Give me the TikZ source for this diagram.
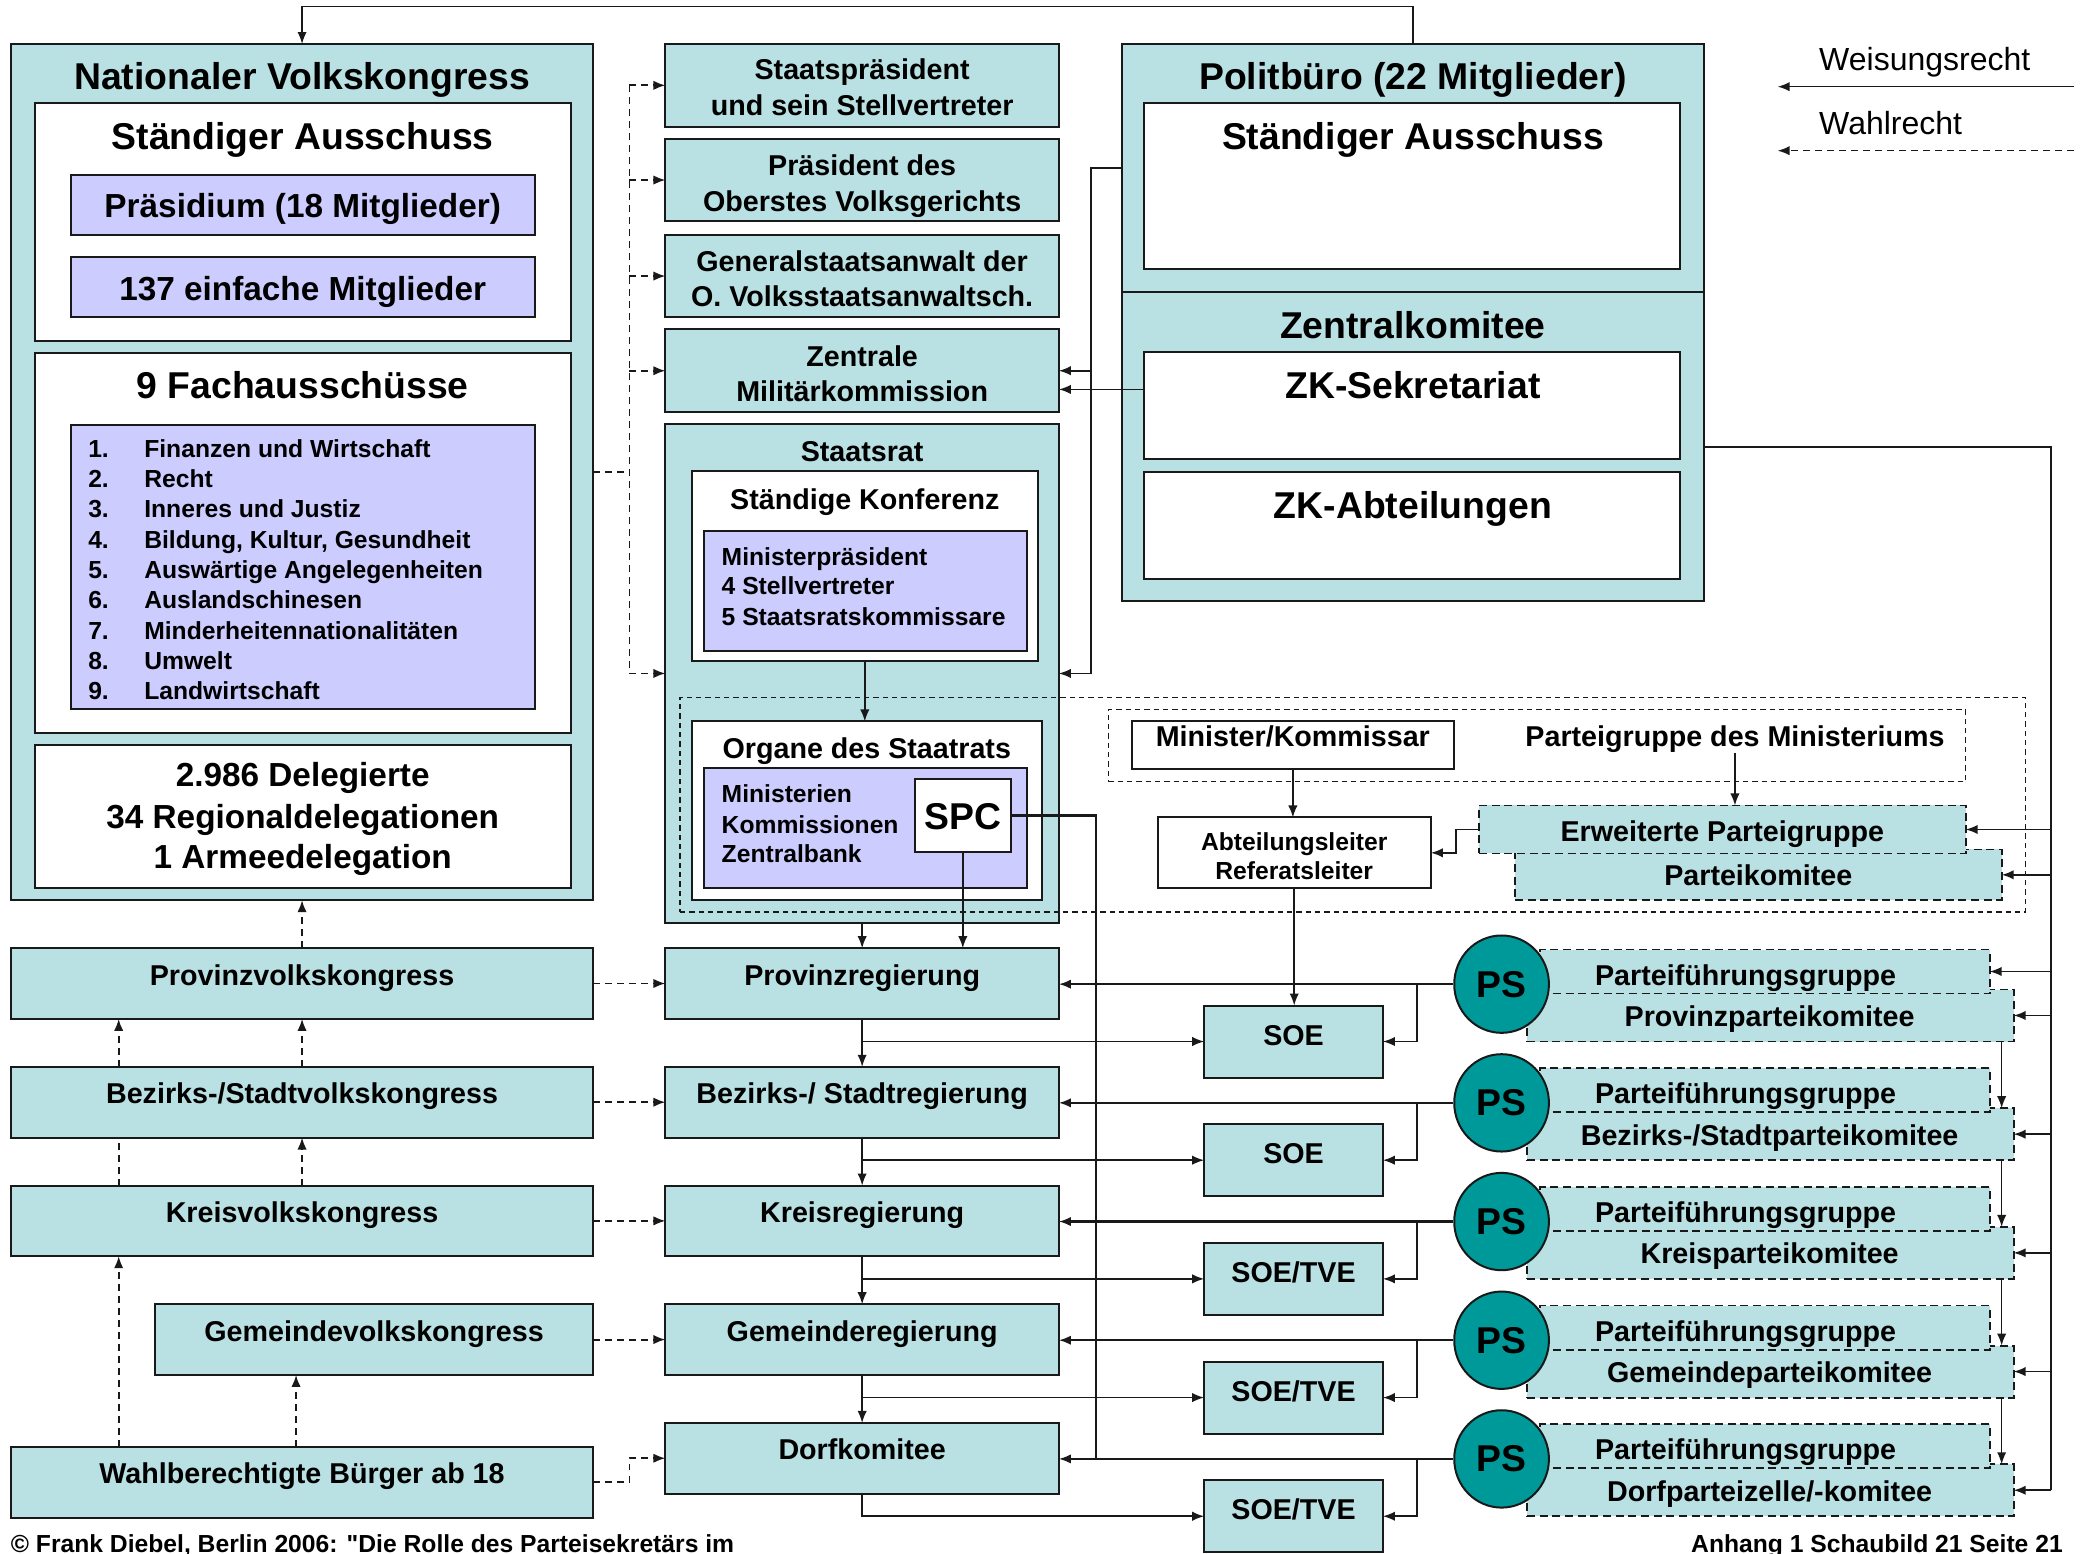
\documentclass[tikz,border=0pt]{standalone}
\usepackage{fontspec}
\setmainfont{Liberation Sans}[Ligatures=TeXOff]
\usetikzlibrary{arrows.meta,calc,shapes.geometric}
\definecolor{cyanbg}{RGB}{185,224,226}
\definecolor{lav}{RGB}{204,204,255}
\definecolor{tealps}{RGB}{0,153,153}
\definecolor{bd}{RGB}{25,25,25}
\newcommand\bx[6]{\node[#1,minimum width={(#4)-(#2)},minimum height={(#5)-(#3)}] (#6) at (#2,#3) {};}
\begin{document}
\begin{tikzpicture}[x=1pt,y=-1pt,
 bxs/.style={inner sep=0pt,outer sep=0pt,anchor=north west,line width=1.5pt,draw=bd},
 cy/.style={bxs,fill=cyanbg},
 wh/.style={bxs,fill=white},
 lv/.style={bxs,fill=lav},
 dcy/.style={bxs,fill=cyanbg,dash pattern=on 6pt off 3.5pt,line width=1.4pt},
 dsh/.style={bxs,dash pattern=on 4pt off 3pt,line width=1pt},
 tA/.style={font=\bfseries\fontsize{28}{32}\selectfont,inner sep=0pt,anchor=base},
 tB/.style={font=\bfseries\fontsize{25}{30}\selectfont,inner sep=0pt,anchor=base},
 tC/.style={font=\bfseries\fontsize{21.5}{26}\selectfont,inner sep=0pt,anchor=base},
 tD/.style={font=\bfseries\fontsize{18.5}{22}\selectfont,inner sep=0pt,anchor=base},
 tL/.style={font=\fontsize{24}{28}\selectfont,inner sep=0pt,anchor=base west},
 ln/.style={line width=1.2pt,draw=bd},
 arr/.style={ln,-{Latex[length=9pt,width=7pt]}},
 dln/.style={ln,line width=1.4pt,dash pattern=on 5pt off 4pt},
 darr/.style={arr,line width=1.4pt,dash pattern=on 5pt off 4pt},
]
\useasboundingbox (0,0) rectangle (1568,1165);

% ---------- Nationaler Volkskongress ----------
\bx{cy}{8}{33}{445}{675}{nvk}
\node[tA] (tnvk) at (226.5,67) {Nationaler Volkskongress};
\bx{wh}{26}{77}{428}{256}{nsa}
\node[tA] (tnsa) at (227,112) {Ständiger Ausschuss};
\bx{lv}{53}{131}{401}{176}{pras}
\node[tB] (tpras) at (227,163) {Präsidium (18 Mitglieder)};
\bx{lv}{53}{193}{401}{238}{e137}
\node[tB] (te137) at (227,225) {137 einfache Mitglieder};
\bx{wh}{26}{265}{428}{550}{nfa}
\node[tA] (tnfa) at (227,299) {9 Fachausschüsse};
\bx{lv}{53}{319}{401}{532}{flist}
\foreach \n/\t [count=\k from 0] in {1/Finanzen und Wirtschaft,2/Recht,3/Inneres und Justiz,4/{Bildung, Kultur, Gesundheit},5/Auswärtige Angelegenheiten,6/Auslandschinesen,7/Minderheitennationalitäten,8/Umwelt,9/Landwirtschaft}{
  \node[tD,anchor=base west] (fn\n) at (66,{342.7+22.75*\k}) {\n.};
  \node[tD,anchor=base west] (ft\n) at (108,{342.7+22.75*\k}) {\t};
}
\bx{wh}{26}{559}{428}{666}{deleg}
\node[tB] (td1) at (227,590) {2.986 Delegierte};
\node[tB] (td2) at (227,621) {34 Regionaldelegationen};
\node[tB] (td3) at (227,651) {1 Armeedelegation};

% ---------- middle column ----------
\bx{cy}{499}{33}{794}{95}{sp}
\node[tC] (tsp1) at (646.5,59.7) {Staatspräsident};
\node[tC] (tsp2) at (646.5,86.7) {und sein Stellvertreter};
\bx{cy}{499}{104}{794}{166}{pd}
\node[tC] (tpd1) at (646.5,131.7) {Präsident des};
\node[tC] (tpd2) at (646.5,158.7) {Oberstes Volksgerichts};
\bx{cy}{499}{176}{794}{238}{gs}
\node[tC] (tgs1) at (646.5,203.7) {Generalstaatsanwalt der};
\node[tC] (tgs2) at (646.5,229.7) {O. Volksstaatsanwaltsch.};
\bx{cy}{499}{247}{794}{309}{zmk}
\node[tC] (tzmk1) at (646.5,274.7) {Zentrale};
\node[tC] (tzmk2) at (646.5,300.7) {Militärkommission};
\bx{cy}{499}{318}{794}{692}{sr}
\node[tC] (tsr) at (646.5,345.7) {Staatsrat};
\bx{wh}{519}{353}{778}{496}{skf}
\node[tC] (tskf) at (648.5,381.7) {Ständige Konferenz};
\bx{lv}{528}{398}{770}{488}{skl}
\node[tD,anchor=base west] (skl1) at (541,423.7) {Ministerpräsident};
\node[tD,anchor=base west] (skl2) at (541,445.7) {4 Stellvertreter};
\node[tD,anchor=base west] (skl3) at (541,468.7) {5 Staatsratskommissare};
\bx{dsh}{510}{523}{1519}{684}{dbig}
\bx{wh}{519}{541}{781}{675}{org}
\node[tC] (torg) at (650,568.7) {Organe des Staatrats};
\bx{lv}{528}{576}{770}{666}{orgl}
\node[tD,anchor=base west] (org1) at (541,601.7) {Ministerien};
\node[tD,anchor=base west] (org2) at (541,624.7) {Kommissionen};
\node[tD,anchor=base west] (org3) at (541,646.7) {Zentralbank};
\bx{wh}{686}{584}{758}{639}{spc}
\node[tA] (tspc) at (722,622) {SPC};

% ---------- Politbuero ----------
\bx{cy}{841}{33}{1278}{219}{pb}
\bx{cy}{841}{219}{1278}{451}{zk}
\node[tA] (tpb) at (1059.5,67) {Politbüro (22 Mitglieder)};
\bx{wh}{858}{77}{1260}{202}{pbsa}
\node[tA] (tpbsa) at (1059.5,112) {Ständiger Ausschuss};
\node[tA] (tzk) at (1059.5,254) {Zentralkomitee};
\bx{wh}{858}{264}{1260}{344}{zks}
\node[tA] (tzks) at (1059.5,299) {ZK-Sekretariat};
\bx{wh}{858}{354}{1260}{434}{zka}
\node[tA] (tzka) at (1059.5,389) {ZK-Abteilungen};

% ---------- ministry ----------
\bx{dsh}{831}{532}{1474}{586}{dmin}
\bx{wh}{849}{541}{1090}{577}{minb}
\node[tC] (tminb) at (969.5,559.7) {Minister/Kommissar};
\node[tC] (pgm) at (1301,559.7) {Parteigruppe des Ministeriums};
\bx{wh}{868}{613}{1073}{666}{abt}
\node[tD] (tabt1) at (970.5,637.7) {Abteilungsleiter};
\node[tD] (tabt2) at (970.5,659.7) {Referatsleiter};
\bx{dcy}{1136}{637}{1501}{675}{pk}
\node[tC] (tpk) at (1318.5,663.7) {Parteikomitee};
\bx{dcy}{1109}{604}{1474}{640}{erw}
\node[tC] (terw) at (1291.5,630.7) {Erweiterte Parteigruppe};

% ---------- congresses ----------
\bx{cy}{8}{711}{445}{764}{cg0}
\node[tC] (tcg0) at (226.5,738.7) {Provinzvolkskongress};
\bx{cy}{8}{800}{445}{853}{cg1}
\node[tC] (tcg1) at (226.5,827.7) {Bezirks-/Stadtvolkskongress};
\bx{cy}{8}{889}{445}{942}{cg2}
\node[tC] (tcg2) at (226.5,916.7) {Kreisvolkskongress};
\bx{cy}{116}{978}{445}{1031}{cg3}
\node[tC] (tcg3) at (280.5,1005.7) {Gemeindevolkskongress};
\bx{cy}{8}{1085}{445}{1138}{cg4}
\node[tC] (tcg4) at (226.5,1112.7) {Wahlberechtigte Bürger ab 18};

% ---------- rows ----------
\foreach \i/\kt/\gt/\st in {0/Provinzparteikomitee/Provinzregierung/SOE,1/{Bezirks-/Stadtparteikomitee}/{Bezirks-/ Stadtregierung}/SOE,2/Kreisparteikomitee/Kreisregierung/{SOE/TVE},3/Gemeindeparteikomitee/Gemeinderegierung/{SOE/TVE},4/{Dorfparteizelle/-komitee}/Dorfkomitee/{SOE/TVE}}{
  \pgfmathsetmacro\dy{89*\i}
  \bx{cy}{499}{711+\dy}{794}{764+\dy}{gov\i}
  \node[tC] (govt\i) at (646.5,738.7+\dy) {\gt};
  \bx{cy}{903}{754+\dy}{1037}{808+\dy}{soe\i}
  \node[tC] (soet\i) at (970,783.7+\dy) {\st};
  \bx{dcy}{1145}{742+\dy}{1510}{781+\dy}{kom\i}
  \node[tC] (komt\i) at (1327,769.7+\dy) {\kt};
  \bx{dcy}{1155}{712+\dy}{1492}{745+\dy}{pfg\i}
  \node[tC] (pfgt\i) at (1309,738.7+\dy) {Parteiführungsgruppe};
  \node[ellipse,draw=bd,line width=1.5pt,fill=tealps,minimum width=71,minimum height=73,inner sep=0pt,font=\bfseries\fontsize{28}{32}\selectfont] (ps\i) at (1126,738+\dy) {PS};
}

% ---------- helper coordinates ----------
\coordinate (nx) at (472,0);
\coordinate (qx) at (818,0);
\coordinate (sx) at (822,0);
\coordinate (rx) at (1538,0);
\coordinate (rd) at (1501,0);
\coordinate (lx) at (89,0);
\coordinate (gx) at (222,0);

% ---------- connectors ----------
\draw[arr] (pb.north) -- ++(0,-28) -| (nvk.north);
% NVK -> state organs (Wahlrecht)
\draw[dln] (nvk.east) -- (nx |- nvk.east);
\draw[dln] (nx |- sp.west) -- (nx |- sr.west);
\foreach \b in {sp,pd,gs,zmk,sr}{\draw[darr] (nx |- \b.west) -- (\b.west);}
% Politbuero -> Staatsrat / ZMK
\draw[arr] (pb.west) -- (qx |- pb.west) |- (sr.east);
\draw[arr] (qx |- pb.west) |- (zmk.east);
\coordinate (zmkb) at ($(zmk.east)+(0,14)$);
\draw[arr] (zks.west |- zmkb) -- (zmkb);
% inside Staatsrat
\draw[arr] (skf.south) -- (skf.south |- org.north);
\draw[arr] (sr.south) -- (gov0.north);
\draw[arr] (spc.south) -- (spc.south |- gov0.north);
\draw[ln,line width=1.8pt] (spc.east) -| (sx |- gov4.east);
% ministry
\draw[arr] (minb.south) -- (minb.south |- abt.north);
\draw[arr] (pgm.south) -- (pgm.south |- erw.north);
\draw[arr] (erw.west) -- ++(-17,0) |- (abt.east);
\draw[arr] (abt.south) -- (abt.south |- soe0.north);
% ZK -> party organs
\draw[ln] (zk.east) -| (rx |- kom4.east);
\draw[arr] (rx |- erw.east) -- (erw.east);
\draw[arr] (rx |- pk.east) -- (pk.east);
\draw[arr] (rx |- pfg0.east) -- (pfg0.east);
\foreach \i in {0,...,4}{
  \draw[arr] (rx |- kom\i.east) -- (kom\i.east);
  \draw[arr,line width=1.6pt] (ps\i.west) -- (ps\i.west -| gov\i.east);
  \draw[arr] ($(ps\i.west)+(-27,0)$) |- (soe\i.east);
}
\foreach \i/\j in {0/1,1/2,2/3,3/4}{
  \draw[arr] (gov\i.south) -- (gov\j.north);
  \draw[arr] ($(gov\i.south)+(0,17)$) -- (soe\i.west);
  \draw[arr] (kom\i.south -| rd) -- (kom\j.north -| rd);
}
\draw[arr] (gov4.south) |- (soe4.west);
% congresses -> governments
\foreach \i in {0,1,2,3}{\draw[darr] (cg\i.east) -- (gov\i.west);}
\draw[darr] (cg4.east) -- ++(27,0) |- (gov4.west);
% congresses upward
\draw[darr] (cg0.north) -- (nvk.south);
\draw[darr] (lx |- cg1.north) -- (lx |- cg0.south);
\draw[darr] (cg1.north) -- (cg0.south);
\draw[dln] (lx |- cg2.north) -- (lx |- cg1.south);
\draw[darr] (cg2.north) -- (cg1.south);
\draw[darr] (lx |- cg4.north) -- (lx |- cg2.south);
\draw[darr] (gx |- cg4.north) -- (gx |- cg3.south);

% ---------- legend ----------
\node[tL] (lw) at (1364,53) {Weisungsrecht};
\node[tL] (lwr) at (1364,101) {Wahlrecht};
\coordinate (la1) at (1555,65); \coordinate (la2) at (1333,65);
\draw[arr,line width=1.2pt] (la1) -- (la2);
\coordinate (lb1) at (1555,113); \coordinate (lb2) at (1333,113);
\draw[darr,line width=1.2pt] (lb1) -- (lb2);

% ---------- footer ----------
\node[tD,anchor=base west] (foot1) at (8,1164) {© Frank Diebel, Berlin 2006: "Die Rolle des Parteisekretärs im};
\node[tD,anchor=base east] (foot2) at (1547,1164) {Anhang 1 Schaubild 21 Seite 21};
\end{tikzpicture}
\end{document}
